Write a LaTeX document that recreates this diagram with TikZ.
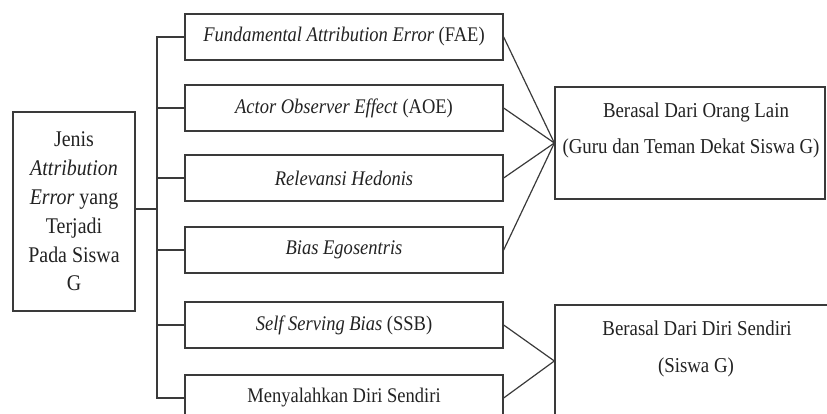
\documentclass[tikz,border=0pt]{standalone}
\usepackage{fontspec}
\setmainfont[FakeStretch=0.89]{Liberation Serif}
\definecolor{ink}{HTML}{222222}
\definecolor{edge}{HTML}{3A3A3A}
\tikzset{
  jenisbox/.style={draw=edge,line width=1.3pt,minimum width=318pt,minimum height=46pt,inner sep=0pt,font=\fontsize{20.8}{24}\selectfont,text=ink},
  asalbox/.style={draw=edge,line width=1.3pt,minimum width=270pt,minimum height=112pt,inner sep=0pt},
  asaltext/.style={font=\fontsize{21.2}{24}\selectfont,text=ink,inner sep=0pt},
  wire/.style={draw=edge,line width=1.2pt}
}
\begin{document}
\begin{tikzpicture}[x=1pt,y=-1pt]
\useasboundingbox (0,0) rectangle (827,414);
\clip (0,0) rectangle (827,414);
\node[draw=edge,line width=1.3pt,minimum width=122pt,minimum height=199pt,align=center,text=ink,
  font=\fontsize{22.4}{28.8}\selectfont] (src) at (74,211.5)
  {Jenis\\\textit{Attribution}\\\textit{Error} yang\\Terjadi\\Pada Siswa\\G};
\node[jenisbox] (fae) at (344,37) {\textit{Fundamental Attribution Error} (FAE)};
\node[jenisbox] (aoe) at (344,108) {\textit{Actor Observer Effect} (AOE)};
\node[jenisbox] (rel) at (344,178) {\textit{Relevansi Hedonis}};
\node[jenisbox] (ego) at (344,250) {\textit{Bias Egosentris}};
\node[jenisbox] (ssb) at (344,325) {\textit{Self Serving Bias} (SSB)};
\node[jenisbox] (mys) at (344,398) {Menyalahkan Diri Sendiri};
\node[asalbox] (lain) at (690,143) {};
\node[asaltext] (laina) at (696,112) {Berasal Dari Orang Lain};
\node[asaltext] (lainb) at (691,148) {(Guru dan Teman Dekat Siswa G)};
\node[asalbox,minimum width=285pt] (diri) at (697.5,361) {};
\node[asaltext] (diria) at (697,328) {Berasal Dari Diri Sendiri};
\node[asaltext] (dirib) at (696,367) {(Siswa G)};
% trunk
\coordinate (trunk) at (157,0);
\draw[wire] (src.east|-0,209) -- (trunk|-0,209);
\draw[wire] (fae.west) -- (fae.west-|trunk) -- (mys.west-|trunk) -- (mys.west);
\foreach \b in {aoe,rel,ego,ssb} \draw[wire] (\b.west) -- (\b.west-|trunk);
% sources
\foreach \b in {fae,aoe,rel,ego} \draw[wire] (\b.east) -- (lain.west);
\foreach \b in {ssb,mys} \draw[wire] (\b.east) -- (diri.west);
\end{tikzpicture}
\end{document}
